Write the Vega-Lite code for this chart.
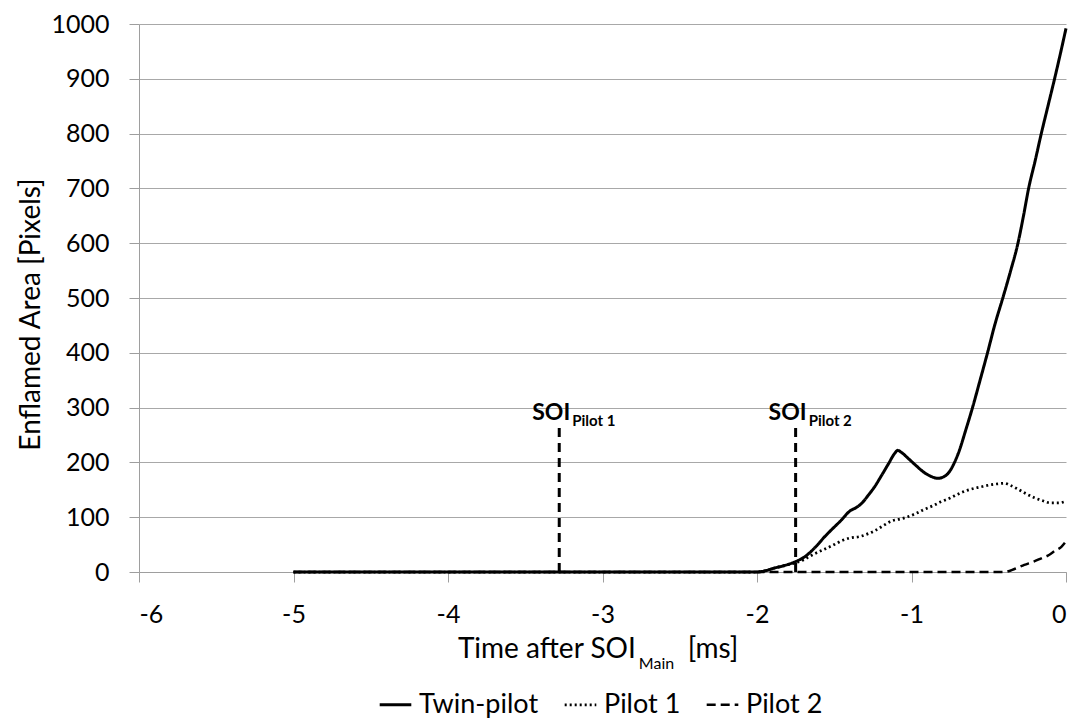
{
  "$schema": "https://vega.github.io/schema/vega-lite/v6.json",
  "width": 927,
  "height": 548,
  "autosize": {"type": "none"},
  "padding": {"left": 139, "top": 24, "right": 21, "bottom": 147},
  "background": "white",
  "config": {
    "font": "Lato",
    "view": {"stroke": null},
    "axis": {
      "labelFontSize": 25,
      "labelColor": "#000000",
      "titleFontSize": 28,
      "titleFontWeight": "normal",
      "titleColor": "#000000",
      "domainColor": "#9e9e9e",
      "tickColor": "#9e9e9e",
      "gridColor": "#a8a8a8",
      "tickSize": 10,
      "labelPadding": 20
    },
    "legend": {
      "labelFontSize": 27,
      "labelColor": "#000000",
      "labelFont": "Lato"
    }
  },
  "datasets": {
    "series": [
      {"t": -5.0, "area": 0, "series": "Twin-pilot"},
      {"t": -4.0, "area": 0, "series": "Twin-pilot"},
      {"t": -3.0, "area": 0, "series": "Twin-pilot"},
      {"t": -2.0, "area": 0, "series": "Twin-pilot"},
      {"t": -1.95, "area": 2, "series": "Twin-pilot"},
      {"t": -1.89, "area": 7, "series": "Twin-pilot"},
      {"t": -1.82, "area": 12, "series": "Twin-pilot"},
      {"t": -1.75, "area": 19, "series": "Twin-pilot"},
      {"t": -1.69, "area": 28, "series": "Twin-pilot"},
      {"t": -1.62, "area": 46, "series": "Twin-pilot"},
      {"t": -1.56, "area": 65, "series": "Twin-pilot"},
      {"t": -1.5, "area": 82, "series": "Twin-pilot"},
      {"t": -1.46, "area": 93, "series": "Twin-pilot"},
      {"t": -1.4, "area": 111, "series": "Twin-pilot"},
      {"t": -1.35, "area": 119, "series": "Twin-pilot"},
      {"t": -1.32, "area": 126, "series": "Twin-pilot"},
      {"t": -1.28, "area": 140, "series": "Twin-pilot"},
      {"t": -1.24, "area": 155, "series": "Twin-pilot"},
      {"t": -1.19, "area": 178, "series": "Twin-pilot"},
      {"t": -1.15, "area": 197, "series": "Twin-pilot"},
      {"t": -1.11, "area": 216, "series": "Twin-pilot"},
      {"t": -1.09, "area": 222, "series": "Twin-pilot"},
      {"t": -1.06, "area": 217, "series": "Twin-pilot"},
      {"t": -1.02, "area": 207, "series": "Twin-pilot"},
      {"t": -0.97, "area": 194, "series": "Twin-pilot"},
      {"t": -0.92, "area": 182, "series": "Twin-pilot"},
      {"t": -0.87, "area": 174, "series": "Twin-pilot"},
      {"t": -0.83, "area": 171, "series": "Twin-pilot"},
      {"t": -0.79, "area": 174, "series": "Twin-pilot"},
      {"t": -0.76, "area": 181, "series": "Twin-pilot"},
      {"t": -0.72, "area": 201, "series": "Twin-pilot"},
      {"t": -0.69, "area": 222, "series": "Twin-pilot"},
      {"t": -0.65, "area": 258, "series": "Twin-pilot"},
      {"t": -0.605, "area": 300, "series": "Twin-pilot"},
      {"t": -0.56, "area": 346, "series": "Twin-pilot"},
      {"t": -0.508, "area": 400, "series": "Twin-pilot"},
      {"t": -0.46, "area": 452, "series": "Twin-pilot"},
      {"t": -0.409, "area": 500, "series": "Twin-pilot"},
      {"t": -0.36, "area": 548, "series": "Twin-pilot"},
      {"t": -0.311, "area": 600, "series": "Twin-pilot"},
      {"t": -0.275, "area": 650, "series": "Twin-pilot"},
      {"t": -0.242, "area": 700, "series": "Twin-pilot"},
      {"t": -0.2, "area": 750, "series": "Twin-pilot"},
      {"t": -0.16, "area": 800, "series": "Twin-pilot"},
      {"t": -0.117, "area": 850, "series": "Twin-pilot"},
      {"t": -0.074, "area": 900, "series": "Twin-pilot"},
      {"t": -0.037, "area": 945, "series": "Twin-pilot"},
      {"t": 0.0, "area": 992, "series": "Twin-pilot"},

      {"t": -5.0, "area": 0, "series": "Pilot 1"},
      {"t": -4.0, "area": 0, "series": "Pilot 1"},
      {"t": -3.0, "area": 0, "series": "Pilot 1"},
      {"t": -2.0, "area": 0, "series": "Pilot 1"},
      {"t": -1.95, "area": 2, "series": "Pilot 1"},
      {"t": -1.89, "area": 7, "series": "Pilot 1"},
      {"t": -1.82, "area": 12, "series": "Pilot 1"},
      {"t": -1.75, "area": 17, "series": "Pilot 1"},
      {"t": -1.7, "area": 22, "series": "Pilot 1"},
      {"t": -1.65, "area": 30, "series": "Pilot 1"},
      {"t": -1.56, "area": 42, "series": "Pilot 1"},
      {"t": -1.5, "area": 50, "series": "Pilot 1"},
      {"t": -1.46, "area": 56, "series": "Pilot 1"},
      {"t": -1.4, "area": 62, "series": "Pilot 1"},
      {"t": -1.33, "area": 65, "series": "Pilot 1"},
      {"t": -1.28, "area": 70, "series": "Pilot 1"},
      {"t": -1.24, "area": 75, "series": "Pilot 1"},
      {"t": -1.18, "area": 85, "series": "Pilot 1"},
      {"t": -1.13, "area": 93, "series": "Pilot 1"},
      {"t": -1.07, "area": 97, "series": "Pilot 1"},
      {"t": -1.03, "area": 100, "series": "Pilot 1"},
      {"t": -0.97, "area": 107, "series": "Pilot 1"},
      {"t": -0.92, "area": 114, "series": "Pilot 1"},
      {"t": -0.86, "area": 121, "series": "Pilot 1"},
      {"t": -0.81, "area": 128, "series": "Pilot 1"},
      {"t": -0.75, "area": 135, "series": "Pilot 1"},
      {"t": -0.7, "area": 142, "series": "Pilot 1"},
      {"t": -0.65, "area": 148, "series": "Pilot 1"},
      {"t": -0.59, "area": 153, "series": "Pilot 1"},
      {"t": -0.54, "area": 156, "series": "Pilot 1"},
      {"t": -0.49, "area": 159, "series": "Pilot 1"},
      {"t": -0.44, "area": 161, "series": "Pilot 1"},
      {"t": -0.4, "area": 162, "series": "Pilot 1"},
      {"t": -0.36, "area": 158, "series": "Pilot 1"},
      {"t": -0.31, "area": 151, "series": "Pilot 1"},
      {"t": -0.26, "area": 143, "series": "Pilot 1"},
      {"t": -0.2, "area": 135, "series": "Pilot 1"},
      {"t": -0.15, "area": 130, "series": "Pilot 1"},
      {"t": -0.1, "area": 126, "series": "Pilot 1"},
      {"t": -0.05, "area": 126, "series": "Pilot 1"},
      {"t": 0.0, "area": 129, "series": "Pilot 1"},

      {"t": -5.0, "area": 0, "series": "Pilot 2"},
      {"t": -4.0, "area": 0, "series": "Pilot 2"},
      {"t": -3.0, "area": 0, "series": "Pilot 2"},
      {"t": -2.0, "area": 0, "series": "Pilot 2"},
      {"t": -1.0, "area": 0, "series": "Pilot 2"},
      {"t": -0.4, "area": 0, "series": "Pilot 2"},
      {"t": -0.33, "area": 6, "series": "Pilot 2"},
      {"t": -0.27, "area": 13, "series": "Pilot 2"},
      {"t": -0.21, "area": 19, "series": "Pilot 2"},
      {"t": -0.16, "area": 25, "series": "Pilot 2"},
      {"t": -0.11, "area": 31, "series": "Pilot 2"},
      {"t": -0.07, "area": 39, "series": "Pilot 2"},
      {"t": -0.03, "area": 46, "series": "Pilot 2"},
      {"t": 0.0, "area": 56, "series": "Pilot 2"}
    ],
    "markers": [
      {"t": -3.28, "area": 0, "top": 266, "labelY": 278, "label": "SOI", "sub": "Pilot 1"},
      {"t": -1.75, "area": 0, "top": 266, "labelY": 278, "label": "SOI", "sub": "Pilot 2"}
    ]
  },
  "layer": [
    {
      "data": {"name": "series"},
      "mark": {"type": "line", "interpolate": "monotone", "color": "#000000", "strokeCap": "butt"},
      "encoding": {
        "x": {
          "field": "t",
          "type": "quantitative",
          "scale": {"domain": [-6, 0], "nice": false},
          "axis": {
            "values": [-6, -5, -4, -3, -2, -1, 0],
            "grid": false,
            "title": null,
            "format": "d",
            "labelExpr": "replace(datum.label, '\u2212', '-')"
          }
        },
        "y": {
          "field": "area",
          "type": "quantitative",
          "scale": {"domain": [0, 1000], "nice": false},
          "axis": {
            "values": [0, 100, 200, 300, 400, 500, 600, 700, 800, 900, 1000],
            "grid": true,
            "format": "d",
            "title": "Enflamed Area [Pixels]",
            "titlePadding": 5,
            "titleY": 290
          }
        },
        "strokeDash": {
          "field": "series",
          "type": "nominal",
          "scale": {"domain": ["Twin-pilot", "Pilot 1", "Pilot 2"], "range": [[1, 0], [2, 3], [9, 5]]},
          "legend": {
            "title": null,
            "orient": "none",
            "legendX": 239,
            "legendY": 663,
            "direction": "horizontal",
            "symbolType": "stroke",
            "symbolSize": 1000,
            "symbolStrokeWidth": 3,
            "symbolStrokeColor": "#000000",
            "labelOffset": 6,
            "columnPadding": 20
          }
        },
        "strokeWidth": {
          "field": "series",
          "type": "nominal",
          "scale": {"domain": ["Twin-pilot", "Pilot 1", "Pilot 2"], "range": [3, 2.5, 3]},
          "legend": null
        }
      }
    },
    {
      "data": {"name": "markers"},
      "mark": {"type": "rule", "color": "#000000", "strokeWidth": 3, "strokeDash": [9, 6]},
      "encoding": {
        "x": {"field": "t", "type": "quantitative"},
        "y": {"field": "area", "type": "quantitative"},
        "y2": {"field": "top"}
      }
    },
    {
      "data": {"name": "markers"},
      "mark": {"type": "text", "align": "right", "baseline": "alphabetic", "dx": 11, "fontSize": 23, "fontWeight": "bold", "color": "#000000"},
      "encoding": {
        "x": {"field": "t", "type": "quantitative"},
        "y": {"field": "labelY", "type": "quantitative"},
        "text": {"field": "label"}
      }
    },
    {
      "data": {"name": "markers"},
      "mark": {"type": "text", "align": "left", "baseline": "alphabetic", "dx": 13, "dy": 6, "fontSize": 15, "fontWeight": "bold", "color": "#000000"},
      "encoding": {
        "x": {"field": "t", "type": "quantitative"},
        "y": {"field": "labelY", "type": "quantitative"},
        "text": {"field": "sub"}
      }
    },
    {
      "data": {"values": [{}]},
      "mark": {"type": "text", "align": "right", "baseline": "alphabetic", "dy": 86, "fontSize": 28, "color": "#000000", "text": "Time after SOI"},
      "encoding": {
        "x": {"datum": -2.784, "type": "quantitative"},
        "y": {"datum": 0, "type": "quantitative"}
      }
    },
    {
      "data": {"values": [{}]},
      "mark": {"type": "text", "align": "left", "baseline": "alphabetic", "dx": 3, "dy": 97, "fontSize": 16, "color": "#000000", "text": "Main"},
      "encoding": {
        "x": {"datum": -2.784, "type": "quantitative"},
        "y": {"datum": 0, "type": "quantitative"}
      }
    },
    {
      "data": {"values": [{}]},
      "mark": {"type": "text", "align": "left", "baseline": "alphabetic", "dy": 86, "fontSize": 28, "color": "#000000", "text": "[ms]"},
      "encoding": {
        "x": {"datum": -2.449, "type": "quantitative"},
        "y": {"datum": 0, "type": "quantitative"}
      }
    }
  ]
}
